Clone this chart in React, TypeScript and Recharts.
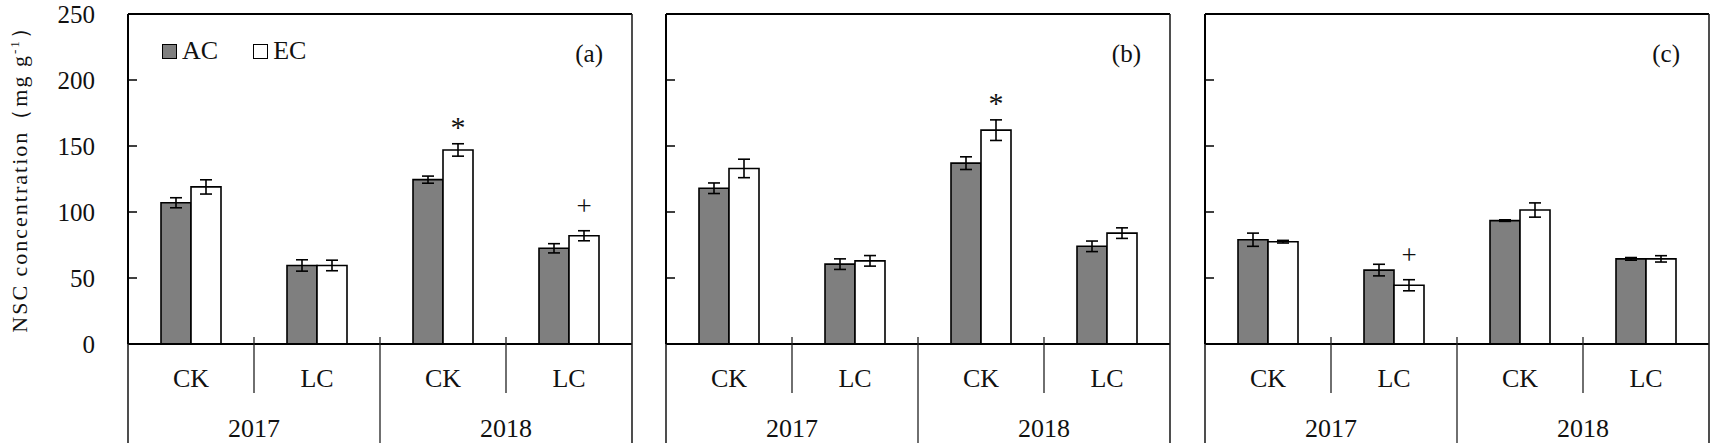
import React from "react";
import {
  BarChart,
  Bar,
  XAxis,
  YAxis,
  ErrorBar,
  LabelList,
  ReferenceLine,
  Legend,
} from "recharts";

const categories = ["CK", "LC", "CK", "LC"];
const years = ["2017", "2017", "2018", "2018"];
const yTicks = [0, 50, 100, 150, 200, 250];

// panel (a)
const acA = [107, 59.5, 124.5, 72.5];
const acErrA = [3.8, 4.3, 2.7, 3.5];
const ecA = [119, 59.5, 147, 82];
const ecErrA = [5.4, 4, 4.7, 3.8];
const sigA = ["", "", "*", "+"];

// panel (b)
const acB = [118, 60.5, 137, 74];
const acErrB = [4, 4, 4.8, 4];
const ecB = [133, 63, 162, 84];
const ecErrB = [7, 4, 7.8, 4];
const sigB = ["", "", "*", ""];

// panel (c)
const acC = [79, 56, 93.5, 64.5];
const acErrC = [5, 4.4, 0.6, 1];
const ecC = [77.5, 44.5, 101.5, 64.5];
const ecErrC = [1, 4.2, 5.4, 2.4];
const sigC = ["", "+", "", ""];

const FONT = '"Liberation Serif", "Times New Roman", serif';
const TOP = 14;
const PLOT_H = 330;
const AXIS_Y = TOP + PLOT_H;
const PLOT_W = 504;
const BAND = PLOT_W / 4;
const BOTTOM = 443;
const H = 445;
const Y_MAX = 250;

const buildRows = (ac: number[], acErr: number[], ec: number[], ecErr: number[], sig: string[]) =>
  categories.map((cat, i) => ({
    cat,
    year: years[i],
    ac: ac[i],
    acErr: acErr[i],
    ec: ec[i],
    ecErr: ecErr[i],
    sig: sig[i],
  }));

const makeYTick = (plotLeft: number, showLabel: boolean) => (props: any) => {
  const { y, payload } = props;
  const v = payload.value;
  return (
    <g>
      {v > 0 && v < Y_MAX && (
        <line x1={plotLeft} x2={plotLeft + 9} y1={y} y2={y} stroke="#000" strokeWidth={1.5} />
      )}
      {showLabel && (
        <text x={plotLeft - 33} y={y + 8.5} textAnchor="end" fontSize={25} fontFamily={FONT} fill="#111">
          {v}
        </text>
      )}
    </g>
  );
};

const makeXTick = (rows: any[]) => (props: any) => {
  const { x, index, payload } = props;
  const right = x + BAND / 2;
  const left = x - BAND / 2;
  return (
    <g>
      <text x={x} y={387} textAnchor="middle" fontSize={26} fontFamily={FONT} fill="#111">
        {payload.value}
      </text>
      {index % 2 === 0 && (
        <text x={right} y={437} textAnchor="middle" fontSize={26} fontFamily={FONT} fill="#111">
          {rows[index].year}
        </text>
      )}
      {index % 2 === 0 && (
        <line x1={right} x2={right} y1={AXIS_Y - 7} y2={393} stroke="#222" strokeWidth={1.3} />
      )}
      {index === 1 && (
        <line x1={right} x2={right} y1={AXIS_Y - 7} y2={BOTTOM} stroke="#222" strokeWidth={1.3} />
      )}
      {index === 0 && (
        <line x1={left} x2={left} y1={AXIS_Y} y2={BOTTOM} stroke="#222" strokeWidth={1.6} />
      )}
      {index === 3 && (
        <line x1={right} x2={right} y1={TOP} y2={BOTTOM} stroke="#222" strokeWidth={1.6} />
      )}
    </g>
  );
};

const makeSig = (rows: any[]) => (props: any) => {
  const { x, y, width, index, value } = props;
  if (!value) return null;
  const errPx = (rows[index].ecErr * PLOT_H) / Y_MAX;
  const center = Number(y) - errPx - 23;
  const base = value === "*" ? center + 16 : center + 7;
  return (
    <text
      x={Number(x) + Number(width) / 2}
      y={base}
      textAnchor="middle"
      fontSize={value === "*" ? 30 : 27}
      fontFamily={FONT}
      fill="#111"
    >
      {value}
    </text>
  );
};

const LegendBox = () => (
  <div style={{ display: "flex", alignItems: "center", fontFamily: FONT, fontSize: 26, color: "#111" }}>
    <span style={{ width: 13, height: 13, background: "#7f7f7f", border: "1.5px solid #000", marginRight: 5 }} />
    <span style={{ marginRight: 35 }}>AC</span>
    <span style={{ width: 13, height: 13, background: "#fff", border: "1.5px solid #000", marginRight: 5 }} />
    <span>EC</span>
  </div>
);

const YTitle = () => (
  <text
    transform={`translate(19, 174) rotate(-90)`}
    textAnchor="middle"
    fontSize={22}
    letterSpacing={2}
    fontFamily={FONT}
    fill="#111"
    dy="0.35em"
  >
    NSC concentration（mg g
    <tspan dy={-8} fontSize={13}>
      -1
    </tspan>
    <tspan dy={8}>）</tspan>
  </text>
);

interface PanelProps {
  rows: any[];
  letter: string;
  plotLeft: number;
  first?: boolean;
}

const Panel = ({ rows, letter, plotLeft, first }: PanelProps) => {
  const yWidth = first ? plotLeft : 10;
  const chartLeft = plotLeft - yWidth;
  return (
    <div style={{ position: "absolute", left: chartLeft, top: 0 }}>
      <BarChart
        width={yWidth + PLOT_W + 4}
        height={H}
        data={rows}
        margin={{ top: TOP, right: 4, left: 0, bottom: 0 }}
        barGap={0}
      >
        <XAxis
          dataKey="cat"
          height={H - AXIS_Y}
          interval={0}
          tickLine={false}
          tickSize={0}
          axisLine={{ stroke: "#000", strokeWidth: 2 }}
          tick={makeXTick(rows)}
        />
        <YAxis
          domain={[0, Y_MAX]}
          ticks={yTicks}
          width={yWidth}
          tickLine={false}
          axisLine={{ stroke: "#000", strokeWidth: 2 }}
          tick={makeYTick(yWidth, !!first)}
          label={first ? () => <YTitle /> : undefined}
        />
        <ReferenceLine
          y={Y_MAX}
          stroke="#000"
          strokeWidth={2}
          label={(p: any) => (
            <text
              x={p.viewBox.x + p.viewBox.width - 29}
              y={p.viewBox.y + 48}
              textAnchor="end"
              fontSize={25}
              fontFamily={FONT}
              fill="#111"
            >
              {letter}
            </text>
          )}
        />
        {first && (
          <Legend
            verticalAlign="middle"
            align="center"
            wrapperStyle={{ top: 36, left: 162, width: 200 }}
            content={() => <LegendBox />}
          />
        )}
        <Bar dataKey="ac" fill="#7f7f7f" stroke="#000" strokeWidth={1.6} barSize={30} isAnimationActive={false}>
          <ErrorBar dataKey="acErr" width={6} stroke="#000" strokeWidth={1.6} />
        </Bar>
        <Bar dataKey="ec" fill="#fff" stroke="#000" strokeWidth={1.6} barSize={30} isAnimationActive={false}>
          <ErrorBar dataKey="ecErr" width={6} stroke="#000" strokeWidth={1.6} />
          <LabelList dataKey="sig" content={makeSig(rows)} />
        </Bar>
      </BarChart>
    </div>
  );
};

export default function App() {
  const rowsA = buildRows(acA, acErrA, ecA, ecErrA, sigA);
  const rowsB = buildRows(acB, acErrB, ecB, ecErrB, sigB);
  const rowsC = buildRows(acC, acErrC, ecC, ecErrC, sigC);
  return (
    <div style={{ position: "absolute", left: 0, top: 0, width: 1713, height: H, background: "#fff", overflow: "hidden" }}>
      <Panel rows={rowsA} letter="(a)" plotLeft={128} first />
      <Panel rows={rowsB} letter="(b)" plotLeft={666} />
      <Panel rows={rowsC} letter="(c)" plotLeft={1205} />
    </div>
  );
}
